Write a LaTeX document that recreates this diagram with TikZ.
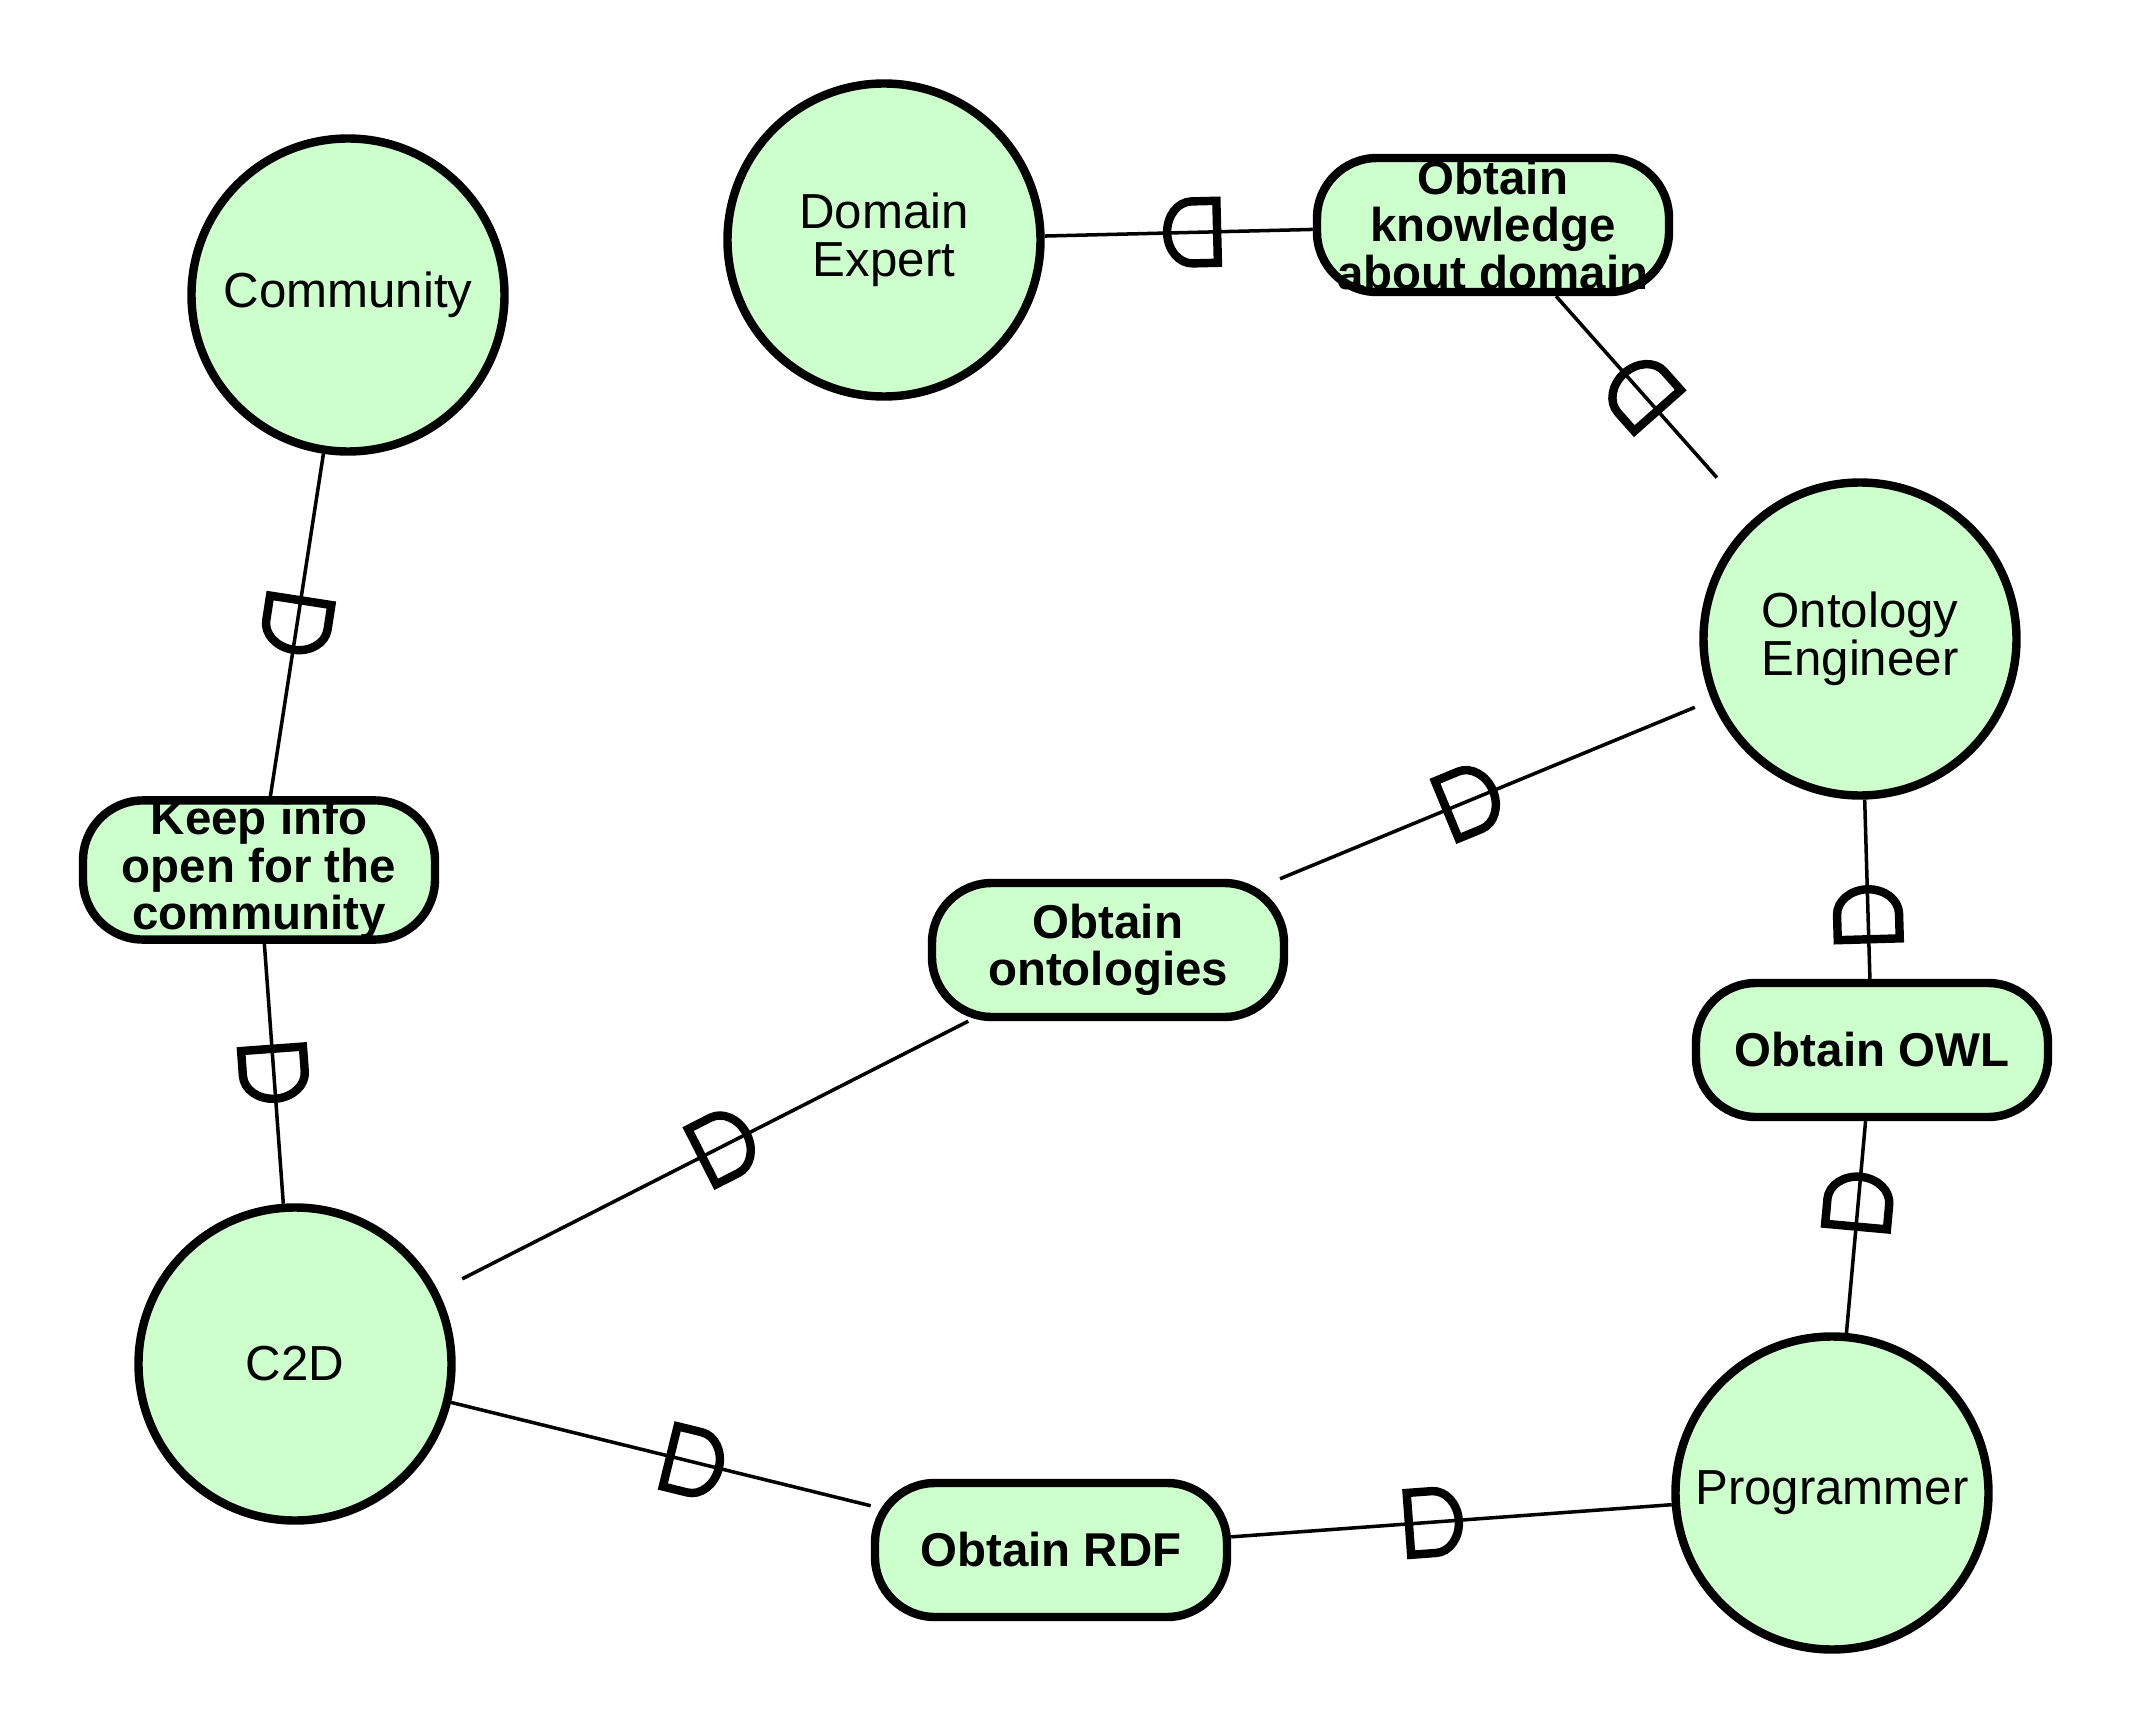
\documentclass[tikz,border=0pt]{standalone}
\usepackage{fontspec}
\setmainfont{Liberation Sans}
\usepackage{xcolor}
\definecolor{ActorGreen}{HTML}{CCFFCC}
\usetikzlibrary{positioning,calc}

\begin{document}
\begin{tikzpicture}[actor/.style={circle, draw, line width=2.4pt, fill=ActorGreen, minimum size=3.13cm, inner sep=0pt, align=center, font=\fontsize{14}{13.6}\selectfont}, goal/.style={rectangle, rounded corners=0.6cm, draw, line width=2.4pt, fill=ActorGreen, minimum width=3.52cm, minimum height=1.34cm, inner sep=0pt, align=center, font=\fontsize{13.5}{13.5}\selectfont\bfseries}, dep/.style={draw, line width=1pt}, dat/.style={pos=#1, sloped, allow upside down}, dmark/.pic={\draw[line width=2.4pt, line join=miter] (-0.25,-0.31) -- (-0.25,0.31) -- (0,0.31) arc[start angle=90, end angle=-90, x radius=0.25cm, y radius=0.31cm] -- cycle;}]
        \useasboundingbox (0,0) rectangle (21.32,-17.32);
        \node[actor] (community) at (3.48,-2.95) {Community};
        \node[actor] (expert) at (8.84,-2.40) {Domain\\Expert};
        \node[actor] (engineer) at (18.60,-6.39) {Ontology\\Engineer};
        \node[actor] (ctwod) at (2.95,-13.64) {C2D};
        \node[actor] (programmer) at (18.32,-14.93) {Programmer};
        \node[goal] (knowledge) at (14.93,-2.25) {Obtain\\knowledge\\about domain};
        \node[goal] (keepinfo) at (2.59,-8.70) {Keep info\\open for the\\community};
        \node[goal] (ontologies) at (11.08,-9.50) {Obtain\\ontologies};
        \node[goal] (owl) at (18.72,-10.50) {Obtain OWL};
        \node[goal] (rdf) at (10.51,-15.50) {Obtain RDF};
        \draw[dep, shorten <=0.55cm] (engineer) -- (knowledge) pic[dat=0.57]{dmark};
        \draw[dep] (knowledge) -- (expert) pic[dat=0.45]{dmark};
        \draw[dep] (community) -- (keepinfo) pic[dat=0.5]{dmark};
        \draw[dep] (keepinfo) -- (ctwod) pic[dat=0.5]{dmark};
        \draw[dep, shorten <=0.27cm] (ctwod) -- (ontologies) pic[dat=0.54]{dmark};
        \draw[dep, shorten >=0.18cm] (ontologies) -- (engineer) pic[dat=0.44]{dmark};
        \draw[dep] (programmer) -- (owl) pic[dat=0.62]{dmark};
        \draw[dep] (owl) -- (engineer) pic[dat=0.36]{dmark};
        \draw[dep] (ctwod) -- (rdf) pic[dat=0.58]{dmark};
        \draw[dep] (rdf) -- (programmer) pic[dat=0.46]{dmark};
    \end{tikzpicture}
\end{document}
